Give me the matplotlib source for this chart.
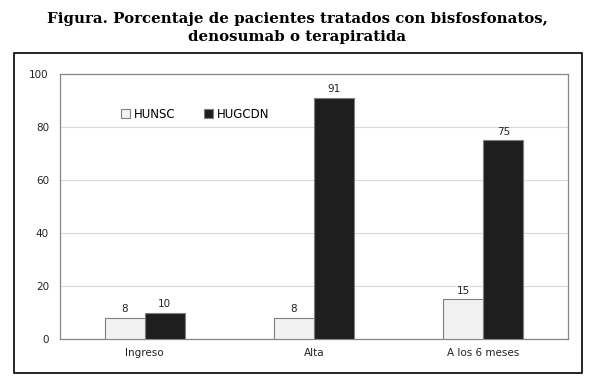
import matplotlib
matplotlib.use("Agg")
import matplotlib.pyplot as plt
from matplotlib.patches import Rectangle
import numpy as np

categories = ["Ingreso", "Alta", "A los 6 meses"]
series_names = ["HUNSC", "HUGCDN"]
hunsc = [8, 8, 15]
hugcdn = [10, 91, 75]
yticks = [0, 20, 40, 60, 80, 100]
title = "Figura. Porcentaje de pacientes tratados con bisfosfonatos,\ndenosumab o terapiratida"

W, H = 595, 381
fig = plt.figure(figsize=(W / 100, H / 100), dpi=100)
ax = fig.add_axes([60 / W, 1 - 339 / H, (568 - 60) / W, (339 - 74) / H])

x = np.arange(len(categories))
bw = 0.236
ax.bar(x - bw / 2, hunsc, bw, color="#f2f2f2", edgecolor="#7f7f7f", linewidth=0.8,
       label=series_names[0], zorder=3)
ax.bar(x + bw / 2, hugcdn, bw, color="#1e1e1e", edgecolor="#7f7f7f", linewidth=0.8,
       label=series_names[1], zorder=3)

for xi, v in zip(x - bw / 2, hunsc):
    ax.text(xi, v + 1.4, str(v), ha="center", va="bottom", fontsize=7.5, color="#222222")
for xi, v in zip(x + bw / 2, hugcdn):
    ax.text(xi, v + 1.4, str(v), ha="center", va="bottom", fontsize=7.5, color="#222222")

ax.set_xlim(-0.5, len(categories) - 0.5)
ax.set_ylim(0, 100)
ax.set_yticks(yticks)
ax.set_xticks(x)
ax.set_xticklabels(categories)
ax.tick_params(axis="both", length=0, labelsize=7.5, colors="#222222")
ax.tick_params(axis="x", pad=6.5)
ax.tick_params(axis="y", pad=8)
ax.yaxis.grid(True, color="#d9d9d9", linewidth=0.8, zorder=0)
ax.set_axisbelow(True)
for s in ax.spines.values():
    s.set_color("#868686")
    s.set_linewidth(0.9)

leg = ax.legend(loc="upper left", bbox_to_anchor=(0.12, 0.872), ncol=2, frameon=False,
                fontsize=8.5, handlelength=0.8, handleheight=0.8, handletextpad=0.3,
                columnspacing=2.4, borderaxespad=0, borderpad=0)

fig.text(297 / W, 1 - 28 / H, title, ha="center", va="center", fontsize=10.8,
         fontweight="bold", family="DejaVu Serif", linespacing=1.4)

fig.patches.append(Rectangle((14 / W, 1 - 373 / H), (582 - 14) / W, (373 - 53) / H,
                             transform=fig.transFigure, fill=False, edgecolor="black",
                             linewidth=1.2))

fig.savefig("out.png", dpi=100)
